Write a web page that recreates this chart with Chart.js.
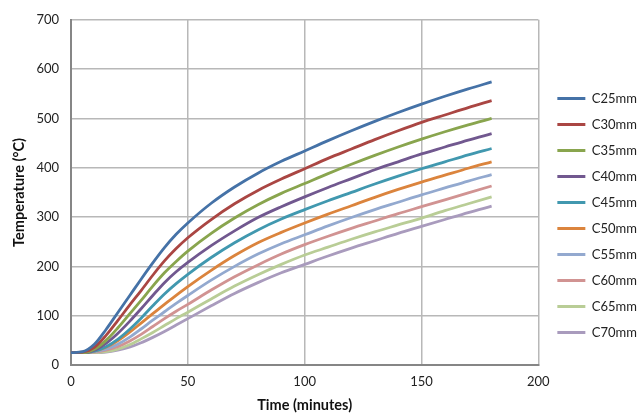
<!DOCTYPE html>
<html>
<head>
<meta charset="utf-8">
<script src="https://cdn.jsdelivr.net/npm/chart.js@4.4.1/dist/chart.umd.min.js"></script>
<style>
  html, body { margin: 0; padding: 0; background: #fff; }
  #wrap { width: 644px; height: 414px; }
</style>
</head>
<body>
<div id="wrap"><canvas id="chart" width="644" height="414"></canvas></div>
<script>
// time in minutes
const times = [0, 5, 10, 15, 20, 25, 30, 35, 40, 45, 50, 60, 70, 80, 90, 100, 110, 120, 130, 140, 150, 160, 170, 180];

// temperatures (°C)
const c25 = [25, 27, 42, 72, 106, 140, 174, 207, 238, 265, 288, 328, 361, 389, 413, 434, 455, 475, 494, 512, 529, 545, 560, 574];
const c30 = [25, 26, 36, 60, 90, 121, 151, 182, 211, 236, 258, 295, 327, 354, 377, 398, 419, 438, 457, 475, 492, 507, 522, 536];
const c35 = [25, 25, 32, 50, 75, 103, 131, 160, 187, 210, 231, 267, 298, 325, 348, 368, 388, 407, 425, 442, 458, 473, 487, 500];
const c40 = [25, 25, 30, 44, 64, 88, 114, 141, 167, 189, 208, 242, 272, 299, 321, 341, 360, 378, 396, 412, 428, 442, 456, 469];
const c45 = [25, 25, 28, 37, 52, 72, 95, 120, 144, 165, 184, 218, 248, 274, 296, 315, 333, 350, 367, 383, 398, 412, 426, 439];
const c50 = [25, 25, 28, 36, 49, 66, 85, 104, 123, 141, 159, 192, 222, 248, 269, 288, 306, 323, 340, 356, 371, 385, 399, 412];
const c55 = [25, 25, 27, 32, 42, 56, 73, 91, 108, 125, 141, 172, 200, 225, 246, 264, 282, 299, 315, 330, 345, 359, 373, 386];
const c60 = [25, 25, 26, 30, 37, 48, 62, 78, 94, 109, 123, 152, 179, 203, 225, 244, 261, 277, 292, 307, 321, 335, 349, 363];
const c65 = [25, 25, 25, 27, 32, 41, 53, 66, 80, 94, 107, 134, 160, 183, 204, 223, 239, 255, 270, 284, 298, 313, 327, 341];
const c70 = [25, 25, 25, 26, 30, 36, 45, 56, 68, 81, 94, 120, 145, 167, 187, 204, 221, 237, 252, 267, 281, 295, 309, 322];

const seriesNames = ['C25mm', 'C30mm', 'C35mm', 'C40mm', 'C45mm', 'C50mm', 'C55mm', 'C60mm', 'C65mm', 'C70mm'];
const seriesValues = [c25, c30, c35, c40, c45, c50, c55, c60, c65, c70];
const seriesColors = ['#4572A7', '#AA4643', '#89A54E', '#71588F', '#4198AF', '#DB843D', '#93A9CF', '#D19392', '#B9CD96', '#A99BBD'];

const xTicks = [0, 50, 100, 150, 200];
const yTicks = [0, 100, 200, 300, 400, 500, 600, 700];

const FONT = 'Lato, "Liberation Sans", sans-serif';

const datasets = seriesNames.map((name, i) => ({
  label: name,
  data: times.map((t, j) => ({ x: t, y: seriesValues[i][j] })),
  borderColor: seriesColors[i],
  backgroundColor: seriesColors[i],
  borderWidth: 2.8,
  pointRadius: 0,
  pointHoverRadius: 0,
  cubicInterpolationMode: 'monotone',
  fill: false
}));

// nudge the legend a bit away from the plot, like the original
const legendShift = {
  id: 'legendShift',
  afterLayout(chart) {
    chart.legend.left += 6;
    chart.legend.right += 6;
  }
};

new Chart(document.getElementById('chart'), {
  type: 'line',
  data: { datasets },
  plugins: [legendShift],
  options: {
    responsive: false,
    animation: false,
    layout: { padding: { left: 8, top: 17, right: 3, bottom: 0 } },
    plugins: {
      tooltip: { enabled: false },
      legend: {
        position: 'right',
        align: 'center',
        labels: {
          usePointStyle: true,
          pointStyle: 'line',
          pointStyleWidth: 28,
          boxHeight: 13,
          padding: 13,
          color: '#222',
          font: { family: FONT, size: 13 }
        }
      }
    },
    scales: {
      x: {
        type: 'linear',
        min: 0,
        max: 200,
        afterBuildTicks: s => { s.ticks = xTicks.map(v => ({ value: v })); },
        afterFit: s => { s.height = 49; },
        grid: { color: '#b8b8b8', lineWidth: 1.5, drawTicks: false },
        border: { color: '#868686', width: 2 },
        ticks: { padding: 9, color: '#222', font: { family: FONT, size: 13 } },
        title: {
          display: true,
          text: 'Time (minutes)',
          color: '#111',
          padding: { top: 1, bottom: 0 },
          font: { family: FONT, size: 14.5, weight: 'bold' }
        }
      },
      y: {
        min: 0,
        max: 700,
        afterBuildTicks: s => { s.ticks = yTicks.map(v => ({ value: v })); },
        afterFit: s => { s.width = 63; },
        grid: { color: '#b8b8b8', lineWidth: 1.5, drawTicks: false },
        border: { color: '#868686', width: 2 },
        ticks: { padding: 12, color: '#222', font: { family: FONT, size: 13 } },
        title: {
          display: true,
          text: 'Temperature (°C)',
          color: '#111',
          padding: { top: 3, bottom: 0 },
          font: { family: FONT, size: 14.5, weight: 'bold' }
        }
      }
    }
  }
});
</script>
</body>
</html>
